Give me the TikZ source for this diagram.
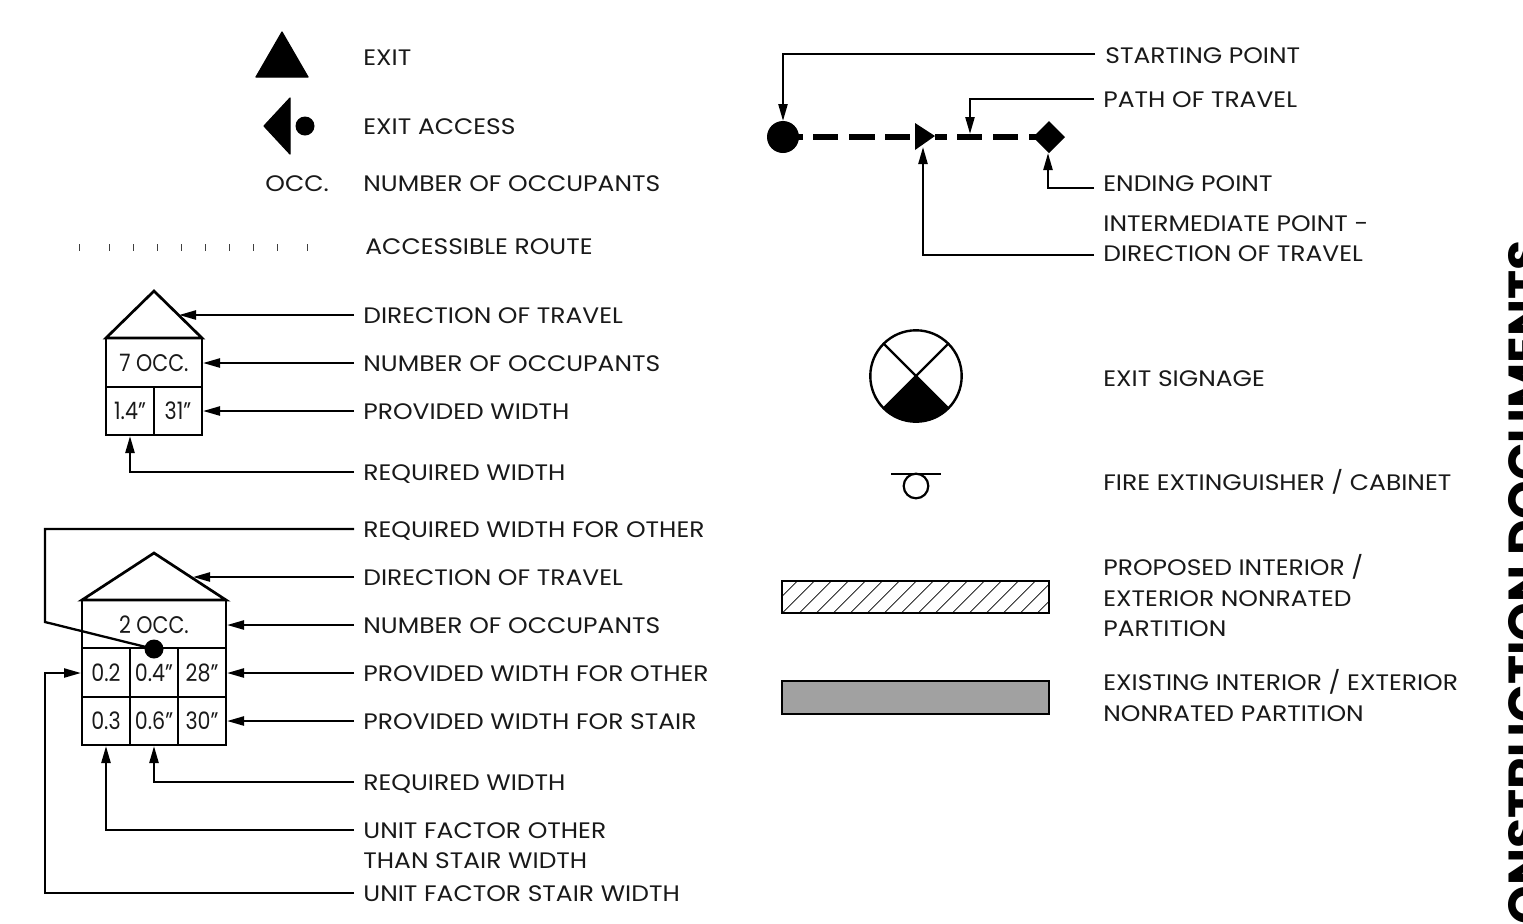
\documentclass[tikz,border=0pt]{standalone}
\usepackage{fontspec}
\usetikzlibrary{arrows.meta}
\setmainfont{Poppins}[FakeStretch=1.115]
\newfontfamily\titlefont{Poppins}
\begin{document}
\begin{tikzpicture}[x=0.5pt,y=-0.5pt,
 lab/.style={anchor=west,inner xsep=4.5pt,inner ysep=0pt,text height=8.5pt,text depth=0pt,font=\fontsize{11.2}{13}\selectfont,text=black!90},
 cell/.style={inner sep=0pt,text height=8.5pt,text depth=0pt,font=\fontsize{12}{13}\selectfont,text=black!90},
 lead/.style={line width=1.15pt,line join=miter},
 arr/.style={lead,-{Stealth[length=8.5pt,width=4.5pt,inset=0pt]}},
 box/.style={line width=1.35pt,line join=miter},
 solidf/.style={fill=black,draw=black,line width=0.6pt,line join=round}]
\useasboundingbox (0,0) rectangle (1523,923);
% left symbols
\draw[solidf] (282,32) -- (308,77) -- (256,77) -- cycle;
\draw[solidf] (290,98) -- (290,154) -- (264,126) -- cycle;
\fill (305,126) circle (9.5);
\node[lab,inner xsep=0pt] (occ) at (265,183) {OCC.};
\foreach \tx in {79,109,133,157,181,205,229,253,277,307}{\draw[line width=0.4pt,black!75] (\tx,244) -- (\tx,251);}
% labels left
\node[lab] (exit) at (354,57) {EXIT};
\node[lab] (exitacc) at (354,126) {EXIT ACCESS};
\node[lab] (numocc) at (354,183) {NUMBER OF OCCUPANTS};
\node[lab] (accroute) at (356,246) {ACCESSIBLE ROUTE};
\node[lab] (a1) at (354,315) {DIRECTION OF TRAVEL};
\node[lab] (a2) at (354,363) {NUMBER OF OCCUPANTS};
\node[lab] (a3) at (354,411) {PROVIDED WIDTH};
\node[lab] (a4) at (354,472) {REQUIRED WIDTH};
\node[lab] (b1) at (354,529) {REQUIRED WIDTH FOR OTHER};
\node[lab] (b2) at (354,577) {DIRECTION OF TRAVEL};
\node[lab] (b3) at (354,625) {NUMBER OF OCCUPANTS};
\node[lab] (b4) at (354,673) {PROVIDED WIDTH FOR OTHER};
\node[lab] (b5) at (354,721) {PROVIDED WIDTH FOR STAIR};
\node[lab] (b6) at (354,782) {REQUIRED WIDTH};
\node[lab] (b7) at (354,830) {UNIT FACTOR OTHER};
\node[lab] (b7b) at (354,860) {THAN STAIR WIDTH};
\node[lab] (b8) at (354,893) {UNIT FACTOR STAIR WIDTH};
% house 1
\draw[box] (106,338) -- (154,291) -- (202,338) -- cycle;
\draw[box] (106,338) rectangle (202,435);
\draw[box] (106,387) -- (202,387) (154,387) -- (154,435);
\node[cell] (h1a) at (154,363) {\scalebox{0.77}[1]{7 OCC.}};
\node[cell] (h1b) at (130,411) {\scalebox{0.77}[1]{1.4"}};
\node[cell] (h1c) at (178,411) {\scalebox{0.77}[1]{31"}};
\coordinate (t1) at (179,315);
\coordinate (t2) at (203,363);
\coordinate (t3) at (203,411);
\coordinate (t4) at (130,436);
\draw[arr] (a1.west) -- (t1);
\draw[arr] (a2.west) -- (t2);
\draw[arr] (a3.west) -- (t3);
\draw[arr] (a4.west) -| (t4);
% house 2
\draw[box] (82,600) -- (154,553) -- (226,600) -- cycle;
\draw[box] (82,600) rectangle (226,745);
\draw[box] (82,648) -- (226,648) (82,697) -- (226,697) (130,648) -- (130,745) (178,648) -- (178,745);
\node[cell] (h2a) at (154,625) {\scalebox{0.77}[1]{2 OCC.}};
\node[cell] (h2b) at (106,673) {\scalebox{0.77}[1]{0.2}};
\node[cell] (h2c) at (154,673) {\scalebox{0.77}[1]{0.4"}};
\node[cell] (h2d) at (202,673) {\scalebox{0.77}[1]{28"}};
\node[cell] (h2e) at (106,721) {\scalebox{0.77}[1]{0.3}};
\node[cell] (h2f) at (154,721) {\scalebox{0.77}[1]{0.6"}};
\node[cell] (h2g) at (202,721) {\scalebox{0.77}[1]{30"}};
\fill (154,649) coordinate (dot) circle (9.5);
\coordinate (u2) at (193,577);
\coordinate (u3) at (227,625);
\coordinate (u4) at (227,673);
\coordinate (u5) at (227,721);
\coordinate (u6) at (154,746);
\coordinate (u7) at (106,746);
\coordinate (u8) at (81,673);
\draw[lead] (b1.west) -- (45,529) -- (45,622) -- (dot);
\draw[arr] (b2.west) -- (u2);
\draw[arr] (b3.west) -- (u3);
\draw[arr] (b4.west) -- (u4);
\draw[arr] (b5.west) -- (u5);
\draw[arr] (b6.west) -| (u6);
\draw[arr] (b7.west) -| (u7);
\draw[arr] (b8.west) -- (45,893) -- (45,673) -- (u8);
% right labels
\node[lab] (r1) at (1096,55) {STARTING POINT};
\node[lab] (r2) at (1094,99) {PATH OF TRAVEL};
\node[lab] (r3) at (1094,183) {ENDING POINT};
\node[lab] (r4a) at (1094,223) {INTERMEDIATE POINT -};
\node[lab] (r4b) at (1094,253) {DIRECTION OF TRAVEL};
\node[lab] (r5) at (1094,378) {EXIT SIGNAGE};
\node[lab] (r6) at (1094,482) {FIRE EXTINGUISHER / CABINET};
\node[lab] (r7a) at (1094,567) {PROPOSED INTERIOR /};
\node[lab] (r7b) at (1094,598) {EXTERIOR NONRATED};
\node[lab] (r7c) at (1094,628) {PARTITION};
\node[lab] (r8a) at (1094,682) {EXISTING INTERIOR / EXTERIOR};
\node[lab] (r8b) at (1094,713) {NONRATED PARTITION};
% path of travel
\draw[line width=3pt] (798,137) -- (803,137) (813,137) -- (838,137) (849,137) -- (875,137) (885,137) -- (910,137)
 (935,137) -- (947,137) (957,137) -- (982,137) (993,137) -- (1018,137) (1029,137) -- (1037,137);
\fill (783,137) coordinate (pstart) circle (16);
\fill (915,123) coordinate (ptri) -- (935,136) -- (915,150) -- cycle;
\fill (1049,121) -- (1065,137) -- (1049,153) -- (1033,137) -- cycle;
\coordinate (pA) at (783,121);
\coordinate (pB) at (970,134);
\coordinate (pC) at (1048,153);
\coordinate (pD) at (923,147);
\coordinate (rr1) at (1095,54);
\coordinate (rr2) at (1094,99);
\coordinate (rr3) at (1094,188);
\coordinate (rr4) at (1094,255);
\draw[arr] (rr1) -| (pA);
\draw[arr] (rr2) -| (pB);
\draw[arr] (rr3) -| (pC);
\draw[arr] (rr4) -| (pD);
% exit sign
\fill (916,376) -- (948.3,408.3) -- (883.7,408.3) -- cycle;
\begin{scope}
\clip (860,408.3) rectangle (970,430);
\fill (916,376) circle (45.7);
\end{scope}
\draw[line width=1.2pt] (916,376) circle (45.7);
\draw[line width=1.2pt] (883.7,343.7) -- (948.3,408.3) (948.3,343.7) -- (883.7,408.3);
% extinguisher
\draw[line width=1.1pt] (891,474) -- (941,474);
\draw[line width=1.1pt] (916,486) circle (12.3);
% partitions
\begin{scope}
\clip (782,581) rectangle (1049,613);
\foreach \k in {0,...,17}{\draw[line width=0.35pt] ({797.3+17*\k},581) -- ++(-34,34);}
\end{scope}
\draw[box] (782,581) rectangle (1049,613);
\draw[box,fill=black!37] (782,681) rectangle (1049,714);
% side title
\begin{scope}
\clip (1400,0) rectangle (1523,923);
\node[rotate=90,anchor=north east,inner sep=0pt,text height=17.2pt,text depth=0pt,font=\titlefont\bfseries\fontsize{24.6}{26}\selectfont] (title) at (1509,240) {CONSTRUCTION DOCUMENTS};
\end{scope}
\end{tikzpicture}
\end{document}
